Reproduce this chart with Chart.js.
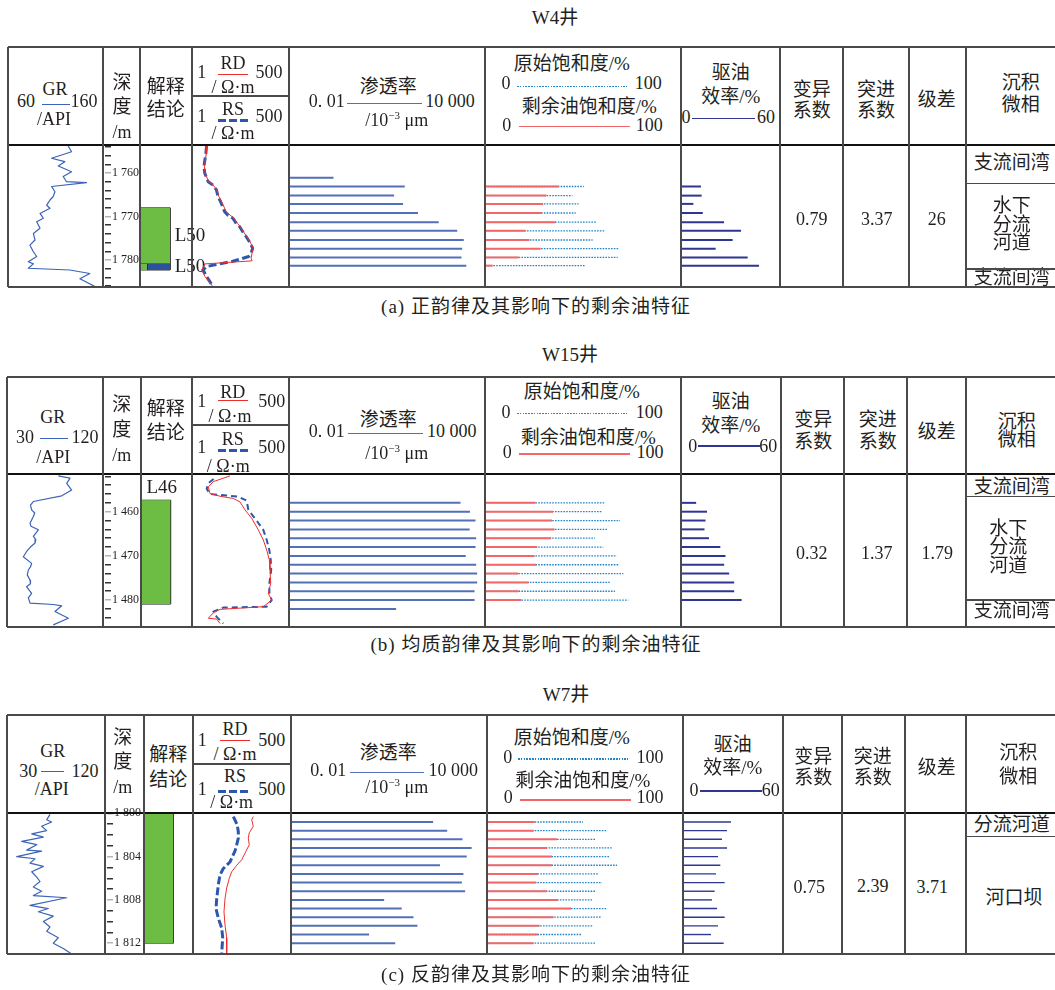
<!DOCTYPE html>
<html><head><meta charset="utf-8">
<script src="https://cdn.jsdelivr.net/npm/chart.js@4.4.1/dist/chart.umd.min.js"></script>
<style>
html,body{margin:0;padding:0;background:#fff;}
#root{position:relative;width:1055px;height:990px;overflow:hidden;background:#fff;}
.t{position:absolute;transform:translate(-50%,-50%);white-space:nowrap;font-family:'Liberation Serif','Noto Sans CJK SC',serif;color:#231f20;font-size:18px;line-height:1.1;}
.t sup{font-size:11px;vertical-align:7px;line-height:0;}
canvas{position:absolute;}
</style></head><body><div id="root"></div>
<script>
// ===================== DATA =====================
const wellNames = ['W4井', 'W15井', 'W7井'];
const captions = ['(a) 正韵律及其影响下的剩余油特征', '(b) 均质韵律及其影响下的剩余油特征', '(c) 反韵律及其影响下的剩余油特征'];
const statNames = ['变异系数', '突进系数', '级差'];

// ---- W4 (a) ----
const w4GrDepth = [1753.8,1755.1,1756.6,1757.4,1758.4,1759.7,1760.8,1762.0,1762.2,1763.1,1764.3,1765.4,1766.2,1767.4,1768.1,1769.3,1770.4,1771.2,1772.7,1773.9,1775.4,1776.6,1778.1,1779.2,1780.4,1780.9,1781.9,1782.3,1783.1,1784.3,1786.3];
const w4GrValue = [123.4,126.9,105.9,119.8,112.9,126.9,118.1,121.6,142.7,105.9,109.4,107.6,104.2,100.7,104.2,93.7,97.2,90.2,93.7,86.7,88.4,83.1,86.7,90.2,81.4,86.7,81.4,125.0,146.2,135.7,153.2];
const w4RdDepth = [1753.8,1755.5,1758.6,1760.1,1762.0,1762.8,1763.9,1765.4,1767.0,1768.9,1769.7,1770.4,1771.6,1772.3,1773.5,1774.6,1775.8,1777.3,1778.4,1779.6,1780.2,1780.9,1782.3,1783.8,1786.1];
const w4RdValue = [2.6,2.5,2.2,2.35,2.9,3.9,4.9,5.6,7.0,9.0,11.5,15.0,18.5,22.0,27.0,33.0,41.0,51.0,47.0,44.0,47.0,2.3,1.85,2.3,3.8];
const w4RsDepth = [1753.8,1755.5,1758.6,1760.1,1762.0,1762.8,1763.9,1765.4,1767.0,1768.9,1769.7,1770.4,1771.6,1772.3,1773.5,1774.6,1775.8,1777.3,1778.4,1779.2,1780.3,1781.5,1782.3,1783.8,1786.1];
const w4RsValue = [2.54,2.43,2.14,2.28,2.82,3.86,4.78,5.31,6.56,8.1,10,13.7,17,21,25.9,32,39.5,48.9,44,37.8,13.7,2.54,2.05,2.54,3.86];
const w4RowDepth = [1761.1,1763.1,1765.2,1767.1,1769.2,1771.3,1773.3,1775.4,1777.4,1779.4,1781.3];
const w4Perm = [0.23,35,16.5,31,89,383,1410,2240,2000,1900,2680];
const w4SoInit = [null,50.4,44.6,47.8,46.3,56.9,61.2,54.9,68.4,67.7,51.3];
const w4SoRemain = [null,37.6,31.3,29.6,29.0,36.1,20.7,22.7,28.4,17.2,3.9];
const w4Eff = [null,12.1,12.5,7.5,13.2,26.1,36.4,31.3,21.0,40.4,47.3];
const w4LayerTop = [1768.0, 1780.8];
const w4LayerBottom = [1780.8, 1782.3];
const w4LayerName = ['L50', 'L50'];
const w4Stats = ['0.79', '3.37', '26'];
const w4Facies = ['支流间湾', '水下<br>分流<br>河道', '支流间湾'];

// ---- W15 (b) ----
const w15GrDepth = [1451.9,1452.4,1453.6,1455.1,1456.4,1457.7,1458.5,1459.6,1460.3,1461.1,1462.6,1463.3,1464.1,1465.6,1466.3,1467.1,1468.0,1469.0,1470.2,1471.7,1472.5,1473.2,1474.3,1475.5,1476.3,1477.0,1478.5,1479.5,1480.7,1481.0,1481.3,1482.6,1484.1,1485.6];
const w15GrValue = [78.1,89.1,86.0,90.6,81.3,54.7,52.0,53.1,56.0,54.7,51.6,52.5,59.4,54.7,57.0,56.3,52.0,48.4,45.3,53.1,52.0,50.0,49.0,51.6,52.0,48.4,53.1,50.0,51.6,73.4,81.3,75.0,87.5,73.4];
const w15RdDepth = [1451.9,1453.2,1454.4,1455.9,1456.5,1457.0,1457.8,1459.6,1461.5,1464.1,1466.4,1468.7,1470.9,1473.2,1476.2,1478.5,1480.0,1481.5,1482.1,1482.9,1484.1,1484.3,1485.3];
const w15RdValue = [11.4,3.92,2.84,3.17,6.02,14.1,21.7,29.9,45.8,70,96.4,120,142,148,155,133,165,96.4,6.02,3.92,2.84,4.87,6.02];
const w15RsDepth = [1452.6,1453.6,1454.8,1456.0,1456.6,1457.5,1459.6,1461.5,1464.1,1466.4,1468.7,1470.9,1473.2,1476.2,1478.5,1480.0,1481.5,1481.7,1482.6,1483.8,1485.3];
const w15RsValue = [4.0,2.8,2.56,3.17,19.4,33.3,36.9,56.6,96.4,120,142,155,160,142,142,165,120,7.43,3.92,4.87,7.43];
const w15RowDepth = [1458,1460,1462,1464,1466,1468,1470,1472,1474,1476,1478,1480,1482];
const w15Perm = [1780,3470,5130,3390,5370,5130,2570,5370,5750,5750,4790,4790,19];
const w15SoInit = [61.2,59.5,68.9,62.6,56.1,60.3,67.2,68.4,70.6,63.7,66.3,73.1,null];
const w15SoRemain = [25.8,34.7,34.2,35.5,33.8,26.7,25.3,26.2,17.1,22.4,17.2,18.5,null];
const w15Eff = [9.1,15.6,14.7,14.1,16.8,23.6,26.7,25.9,28.9,31.9,31.9,36.4,null];
const w15LayerTop = [1457.4];
const w15LayerBottom = [1480.9];
const w15LayerName = ['L46'];
const w15Stats = ['0.32', '1.37', '1.79'];
const w15Facies = ['支流间湾', '水下<br>分流<br>河道', '支流间湾'];

// ---- W7 (c) ----
const w7GrDepth = [1800.1,1800.6,1800.8,1801.2,1801.6,1801.9,1802.2,1802.6,1802.9,1803.4,1803.5,1804.0,1804.2,1804.6,1804.9,1805.4,1805.9,1806.3,1806.8,1807.2,1807.6,1807.8,1808.5,1808.8,1809.1,1809.5,1810.0,1810.5,1810.9,1811.5,1812.0,1812.5,1813.0];
const w7GrValue = [69.5,66.4,71.0,61.8,66.4,52.7,63.4,43.5,57.3,48.1,61.8,38.9,55.7,51.1,63.4,52.7,57.3,60.3,54.2,61.8,54.2,84.8,51.1,67.9,58.8,72.5,63.4,69.5,66.4,77.1,72.5,81.7,89.4];
const w7RdDepth = [1800.3,1800.6,1801.2,1801.8,1802.3,1802.9,1803.5,1804.3,1804.8,1805.4,1806.0,1806.9,1807.9,1809.1,1810.3,1811.5,1812.9];
const w7RdValue = [45.8,41.4,45.8,35.5,33.3,35.5,28.8,21.9,16.0,11.6,10.0,8.47,7.61,7.14,7.61,8.47,8.47];
const w7RsDepth = [1800.3,1800.6,1801.1,1801.7,1802.3,1802.9,1803.5,1804.5,1805.1,1805.7,1806.6,1807.9,1808.8,1809.7,1810.6,1811.5,1812.9];
const w7RsValue = [12.9,14.3,16.6,17.7,17.7,16.0,14.3,10.4,6.83,5.54,4.98,4.50,4.30,4.98,6.17,6.58,6.17];
const w7RowDepth = [1800.8,1801.6,1802.4,1803.2,1804.0,1804.8,1805.6,1806.4,1807.2,1808.0,1808.8,1809.6,1810.4,1811.2,1812.0];
const w7Perm = [224,603,1780,3390,2400,363,1900,1700,2140,7.1,24.5,56.2,74.1,2.45,15.5];
const w7SoInit = [49.0,61.2,55.3,63.8,62.4,66.3,57.0,58.7,55.8,53.6,61.2,58.3,53.9,48.5,55.3];
const w7SoRemain = [24.3,23.8,35.7,30.6,33.2,33.2,26.0,25.2,30.6,36.2,42.9,34.0,26.9,26.0,23.8];
const w7Eff = [28.8,26.4,23.4,26.4,21.0,22.4,19.8,25.0,19.0,17.4,20.4,25.0,21.0,16.8,24.4];
const w7LayerTop = [1800.0];
const w7LayerBottom = [1812.0];
const w7LayerName = [''];
const w7Stats = ['0.75', '2.39', '3.71'];
const w7Facies = ['分流河道', '河口坝'];

// Axis / tick settings
const grRanges = [[60,160],[30,120],[30,120]];
const depthRanges = [[1753.56,1786.21],[1451.47,1486.09],[1799.97,1813.0]];
const depthStep = [2,2,1];
const depthLabelStep = [10,10,4];

// ===================== LAYOUT & STYLE =====================
const root = document.getElementById('root');
const C_GR = '#3b63b7', C_RD = '#ee2d2d', C_RS = '#2c57ad', C_PERM = '#5270b8', C_SOI = '#2385c6', C_SOR = '#f26868', C_EFF = '#2f3691';
const GREEN = '#6dbd45', NAVY = '#2c4f9e';

function T(s, x, y, o) {
  o = o || {};
  const d = document.createElement('div');
  d.className = 't';
  d.style.left = x + 'px'; d.style.top = y + 'px';
  const cjk = /[\u4e00-\u9fff]/.test(s);
  d.style.fontSize = (o.size || (cjk ? 19 : 18)) + 'px';
  if (o.ls) d.style.letterSpacing = o.ls + 'px';
  if (o.lh) d.style.lineHeight = o.lh;
  d.innerHTML = s;
  root.appendChild(d);
  return d;
}
function H(x1, x2, y, w, c, kind) {
  const d = document.createElement('div');
  w = w || 1.5; c = c || '#444';
  let bg = c;
  if (kind === 'dash') bg = `repeating-linear-gradient(90deg, ${c} 0 8px, transparent 8px 11px)`;
  if (kind === 'dot') bg = `repeating-linear-gradient(90deg, ${c} 0 1.6px, transparent 1.6px 2.8px)`;
  d.style.cssText = `position:absolute;left:${x1}px;top:${y - w / 2}px;width:${x2 - x1}px;height:${w}px;background:${bg};`;
  root.appendChild(d);
}
function V(x, y1, y2, w, c) {
  const d = document.createElement('div');
  w = w || 1.5; c = c || '#444';
  d.style.cssText = `position:absolute;left:${x - w / 2}px;top:${y1}px;width:${w}px;height:${y2 - y1}px;background:${c};`;
  root.appendChild(d);
}
function mk(left, top, w, h, cfg) {
  const c = document.createElement('canvas');
  c.width = w; c.height = h;
  c.style.left = left + 'px'; c.style.top = top + 'px';
  c.style.width = w + 'px'; c.style.height = h + 'px';
  root.appendChild(c);
  return new Chart(c, cfg);
}
function opts(xs, ys, extra) {
  const o = {
    responsive: false, animation: false, devicePixelRatio: 1, events: [],
    layout: { padding: 0 },
    plugins: { legend: { display: false }, tooltip: { enabled: false } },
    elements: { point: { radius: 0 }, line: { tension: 0 } },
    scales: {
      x: Object.assign({ display: false }, xs),
      y: Object.assign({ display: false, type: 'linear', reverse: true }, ys)
    }
  };
  return Object.assign(o, extra || {});
}
function curve(depths, vals, color, width, dash) {
  return { showLine: true, fill: false, pointRadius: 0, borderColor: color, borderWidth: width,
           borderDash: dash || [], borderJoinStyle: 'round',
           data: depths.map((d, i) => ({ x: vals[i], y: d })) };
}
function bars(depths, vals, base, color, width, dash) {
  const out = [];
  depths.forEach((d, i) => {
    if (vals[i] === null || vals[i] === undefined) return;
    out.push({ showLine: true, fill: false, pointRadius: 0, borderColor: color, borderWidth: width,
               borderDash: dash || [], borderCapStyle: 'butt',
               data: [{ x: base, y: d }, { x: vals[i], y: d }] });
  });
  return out;
}
function rect(x0, x1, top, bot, color) {
  return [
    { showLine: true, pointRadius: 0, borderColor: 'rgba(0,0,0,0)', borderWidth: 1, fill: '+1', backgroundColor: color,
      data: [{ x: x0, y: top }, { x: x1, y: top }] },
    { showLine: true, pointRadius: 0, borderColor: 'rgba(0,0,0,0)', borderWidth: 1, fill: false,
      data: [{ x: x0, y: bot }, { x: x1, y: bot }] },
    { showLine: true, pointRadius: 0, borderColor: '#2b2b2b', borderWidth: 1, fill: false,
      data: [{ x: x0, y: top }, { x: x1, y: top }, { x: x1, y: bot }, { x: x0, y: bot }, { x: x0, y: top }] }
  ];
}

const panels = [
  { top: 47, mid: 145, bot: 287, split: 96, cols: [8,103,140,192,289,485,681,780,843,909,966,1055],
    title: [555, 18], cap: [536, 307],
    gr: [w4GrDepth, w4GrValue], rd: [w4RdDepth, w4RdValue], rs: [w4RsDepth, w4RsValue], rsW: 3, rsDash: [8, 3.5],
    rows: w4RowDepth, perm: w4Perm, soi: w4SoInit, sor: w4SoRemain, eff: w4Eff, effW: 2,
    layers: [w4LayerTop, w4LayerBottom, w4LayerName],
    layerShapes: [[[0.02, 0.577, GREEN]], [[0.02, 0.135, GREEN], [0.135, 0.577, NAVY]]],
    layerLabels: [[190, 235], [190, 266]],
    stats: w4Stats, statX: [811.7, 876.7, 936.7], statY: [220, 220, 220],
    facies: w4Facies, faciesPos: [[1011.7, 163.3], [1011.7, 225], [1011.7, 277.5]], faciesLines: [183.3, 269],
    hdr: [['60',26,101.7],['GR',55,90],['160',84,101.7],['/API',54,120],
      ['深',122,83],['度',122,107],['/m',122,133],['解释',165.7,87],['结论',165.7,110],
      ['1',201.7,73.3],['RD',233,64],['500',269,73.3],['/ Ω·m',233,88.3],
      ['1',201.7,117],['RS',233,110],['500',269,117],['/ Ω·m',233,134.3],
      ['渗透率',388.3,86.7],['0. 01',326.7,101.7],['10 000',450,101.7],['/10<sup>−3</sup> μm',396.7,121],
      ['原始饱和度/%',571.7,64],['0',506,84.3],['100',648.3,84.3],['剩余油饱和度/%',589.3,106.7],['0',506.7,125.7],['100',649.3,125.7],
      ['驱油',730.7,73.3],['效率/%',730.7,96.7],['0',686,118.3],['60',766,118.3],
      ['变异',811.7,90],['系数',811.7,111],['突进',876,90],['系数',876,111],['级差',936.7,100],['沉积',1020.7,83.3],['微相',1020.7,105]],
    legend: { gr: [41.7,70,104.3], rd: [218,248,74.3], rs: [218,248,120], perm: [346.7,421.7,103.3], soi: [516.7,626.7,86.7], sor: [519,630,126.7], eff: [691.7,755,118.3] }
  },
  { top: 377, mid: 474, bot: 627, split: 425, cols: [7,103,141,192,289,485,681,781,844,907,966,1055],
    title: [570, 355], cap: [536, 645],
    gr: [w15GrDepth, w15GrValue], rd: [w15RdDepth, w15RdValue], rs: [w15RsDepth, w15RsValue], rsW: 2, rsDash: [6, 4],
    rows: w15RowDepth, perm: w15Perm, soi: w15SoInit, sor: w15SoRemain, eff: w15Eff, effW: 2,
    layers: [w15LayerTop, w15LayerBottom, w15LayerName],
    layerShapes: [[[0.014, 0.58, GREEN]]],
    layerLabels: [[161.7, 487.3]],
    stats: w15Stats, statX: [811.7, 876.7, 937.3], statY: [554, 554, 554],
    facies: w15Facies, faciesPos: [[1011.7, 487.3], [1008.3, 547.5], [1011.7, 611]], faciesLines: [496.7, 600],
    hdr: [['GR',52.7,418.3],['30',25,438.3],['120',85,438.3],['/API',53.3,458.3],
      ['深',121.7,405],['度',121.7,430],['/m',121.7,456],['解释',165.7,409.3],['结论',165.7,432.7],
      ['1',201.7,401.7],['RD',232.7,392.7],['500',271.7,401.7],['/ Ω·m',230,416.7],
      ['1',201.7,448.3],['RS',232.7,440],['500',271.7,448.3],['/ Ω·m',228.3,466.7],
      ['渗透率',388.3,420],['0. 01',326.7,431.7],['10 000',451.7,431.7],['/10<sup>−3</sup> μm',396.7,454],
      ['原始饱和度/%',581.7,391.7],['0',506,413.3],['100',649.3,413.3],['剩余油饱和度/%',588.3,438.3],['0',507.3,453.3],['100',650,453.3],
      ['驱油',730.7,401.7],['效率/%',730.7,426],['0',692.7,447.3],['60',768.3,447.3],
      ['变异',813.3,420],['系数',813.3,441.7],['突进',877.7,420],['系数',877.7,441.7],['级差',936.7,431.7],['沉积',1016.7,421.7],['微相',1016.7,440]],
    legend: { gr: [40,68.3,438.3], rd: [218,248,400.7], rs: [218,248,450], perm: [348,423,433.3], soi: [516.7,626.7,413.3], sor: [519,630,454], eff: [698,760,446] }
  },
  { top: 715, mid: 813, bot: 954, split: 764, cols: [7,105,144,193,291,487,683,783,842,905,966,1055],
    title: [566, 695], cap: [536, 975],
    gr: [w7GrDepth, w7GrValue], rd: [w7RdDepth, w7RdValue], rs: [w7RsDepth, w7RsValue], rsW: 3, rsDash: [8, 3],
    rows: w7RowDepth, perm: w7Perm, soi: w7SoInit, sor: w7SoRemain, eff: w7Eff, effW: 1.4,
    layers: [w7LayerTop, w7LayerBottom, w7LayerName],
    layerShapes: [[[0.02, 0.6, GREEN]]],
    layerLabels: [[0, 0]],
    stats: w7Stats, statX: [809.3, 872.7, 932.3], statY: [887.7, 886.7, 887.7],
    facies: w7Facies, faciesPos: [[1011.7, 825], [1014, 897.7]], faciesLines: [836.7],
    hdr: [['GR',52.7,751.7],['30',28.3,771.7],['120',85,771.7],['/API',51.7,790],
      ['深',122.7,738.3],['度',122.7,761.7],['/m',122.7,788.3],['解释',168.3,755],['结论',168.3,780],
      ['1',202.3,741],['RD',235,730],['500',271.7,741],['/ Ω·m',235,755],
      ['1',202.3,790],['RS',235,776.7],['500',271.7,790],['/ Ω·m',231.7,803.3],
      ['渗透率',388.3,753.3],['0. 01',328.3,770.7],['10 000',453.3,770.7],['/10<sup>−3</sup> μm',396.7,788.3],
      ['原始饱和度/%',571.7,738.3],['0',507.7,758.3],['100',650,758.3],['剩余油饱和度/%',582.7,781],['0',508.3,798.3],['100',650,798.3],
      ['驱油',732.7,745],['效率/%',732.7,768.3],['0',694,791],['60',770.7,791],
      ['变异',813.3,756.7],['系数',813.3,777.7],['突进',872.7,756.7],['系数',872.7,777.7],['级差',936.7,768.3],['沉积',1018.3,753.3],['微相',1018.3,776.7]],
    legend: { gr: [41,64,771.7], rd: [220,250,740.7], rs: [218,250,791], perm: [350,424,772.7], soi: [518,628,759], sor: [520,631,800], eff: [700,762,791] }
  }
];

Chart.defaults.font.family = "'Liberation Serif', serif";

panels.forEach((P, k) => {
  const C = P.cols, y0 = P.mid, h = P.bot - P.mid;
  const ys = { min: depthRanges[k][0], max: depthRanges[k][1] };

  // GR track
  mk(C[0], y0, C[1] - C[0], h, { type: 'scatter',
    data: { datasets: [curve(P.gr[0], P.gr[1], C_GR, 1.2)] },
    options: opts({ type: 'linear', min: grRanges[k][0], max: grRanges[k][1] }, ys) });

  // depth track (axis)
  const pad = 12, dl = C[1] - 3, dw = C[2] - C[1] + 3, areaW = 5;
  const step = depthStep[k], lstep = depthLabelStep[k];
  mk(dl, y0 - pad, dw, h + 2 * pad, { type: 'scatter',
    data: { datasets: [{ data: [] }] },
    options: opts({ type: 'linear', min: 0, max: 1 }, {
      display: true, position: 'right', min: ys.min, max: ys.max,
      border: { display: false },
      grid: { drawOnChartArea: false, drawTicks: true, tickLength: 6, lineWidth: 1.5,
        color: c => (c.tick && c.tick.label) ? 'rgba(40,40,40,0.35)' : '#333' },
      ticks: { stepSize: step, includeBounds: false, autoSkip: false, padding: 1, color: '#231f20',
        font: { family: "'Liberation Serif'", size: 12 },
        callback: v => (Math.abs(Math.round(v) - v) < 1e-6 && Math.round(v) % lstep === 0) ? ('1 ' + String(Math.round(v)).slice(1)) : '' },
      afterBuildTicks: s => { s.ticks = s.ticks.filter(t => t.value >= ys.min - 1e-6 && t.value <= ys.max + 1e-6); },
      afterFit: s => { s.width = dw - areaW; s.paddingTop = 0; s.paddingBottom = 0; }
    }, { layout: { padding: { top: pad, bottom: pad, left: 0, right: 0 } } }) });

  // interpretation track
  const ids = [];
  P.layerShapes.forEach((shapes, i) => {
    shapes.forEach(s => ids.push(...rect(s[0], s[1], P.layers[0][i], P.layers[1][i], s[2])));
  });
  mk(C[2], y0, C[3] - C[2], h, { type: 'scatter', data: { datasets: ids },
    options: opts({ type: 'linear', min: 0, max: 1 }, ys) });
  P.layers[2].forEach((n, i) => { if (n) T(n, P.layerLabels[i][0], P.layerLabels[i][1], { size: 19 }); });

  // resistivity track
  mk(C[3], y0, C[4] - C[3], h, { type: 'scatter',
    data: { datasets: [curve(P.rs[0], P.rs[1], C_RS, P.rsW, P.rsDash), curve(P.rd[0], P.rd[1], C_RD, 1)].reverse() },
    options: opts({ type: 'logarithmic', min: 1, max: 500 }, ys) });

  // permeability
  mk(C[4], y0, C[5] - C[4], h, { type: 'scatter',
    data: { datasets: bars(P.rows, P.perm, 0.01, C_PERM, 2) },
    options: opts({ type: 'logarithmic', min: 0.01, max: 10000 }, ys) });

  // saturation
  const sds = bars(P.rows, P.soi, 0, C_SOI, 1.3, [1.6, 1.2]).map(d => Object.assign(d, { order: 2 }))
    .concat(bars(P.rows, P.sor, 0, C_SOR, 2).map(d => Object.assign(d, { order: 1 })));
  mk(C[5], y0, C[6] - C[5], h, { type: 'scatter', data: { datasets: sds },
    options: opts({ type: 'linear', min: 0, max: 100 }, ys) });

  // displacement efficiency
  mk(C[6], y0, C[7] - C[6], h, { type: 'scatter',
    data: { datasets: bars(P.rows, P.eff, 0, C_EFF, P.effW) },
    options: opts({ type: 'linear', min: 0, max: 60 }, ys) });

  // texts
  T(wellNames[k], P.title[0], P.title[1]);
  T(captions[k], P.cap[0], P.cap[1], { ls: 1 });
  P.hdr.forEach(a => T(a[0], a[1], a[2]));
  P.stats.forEach((s, i) => T(s, P.statX[i], P.statY[i]));
  P.facies.forEach((s, i) => T(s, P.faciesPos[i][0], P.faciesPos[i][1], { lh: s.includes('<br>') ? '0.98' : '1.1' }));

  // header legend samples
  const L = P.legend;
  H(L.gr[0], L.gr[1], L.gr[2], 1.5, C_GR);
  H(L.rd[0], L.rd[1], L.rd[2], 1.5, C_RD);
  H(L.rs[0], L.rs[1], L.rs[2], 3, C_RS, 'dash');
  H(L.perm[0], L.perm[1], L.perm[2], 1.5, C_PERM);
  H(L.soi[0], L.soi[1], L.soi[2], 1.5, C_SOI, 'dot');
  H(L.sor[0], L.sor[1], L.sor[2], 1.5, C_SOR);
  H(L.eff[0], L.eff[1], L.eff[2], 1.5, C_EFF);

  // table lines
  H(C[0], 1055, P.top, 1.8, '#4a4a4a');
  H(C[0], 1055, P.mid, 1.5, '#111');
  H(C[0], 1055, P.bot, 2, '#4a4a4a');
  for (let i = 0; i <= 10; i++) V(C[i], P.top, P.bot, 1.5, '#4a4a4a');
  H(C[3], C[4], P.split, 1.5, '#4a4a4a');
  P.faciesLines.forEach(y => H(C[10], 1055, y, 1.5, '#4a4a4a'));
});
</script></body></html>
